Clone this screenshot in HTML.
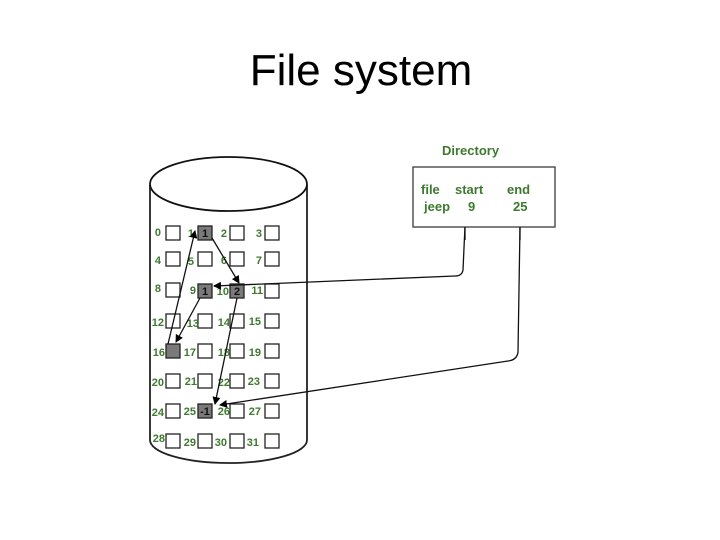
<!DOCTYPE html>
<html><head><meta charset="utf-8"><style>
html,body{margin:0;padding:0;background:#fff;}
svg{display:block;}
.l{font-family:"Liberation Sans",sans-serif;font-size:11px;font-weight:bold;fill:#3d7a2e;text-anchor:end;}
.d{font-family:"Liberation Sans",sans-serif;font-size:13px;font-weight:bold;fill:#3d7a2e;}
.g{font-family:"Liberation Sans",sans-serif;font-size:11px;font-weight:bold;fill:#111;text-anchor:middle;}
</style></head><body>
<svg width="720" height="540" viewBox="0 0 720 540" xmlns="http://www.w3.org/2000/svg">
<defs><marker id="a" markerWidth="8" markerHeight="8" refX="7" refY="4" orient="auto" markerUnits="userSpaceOnUse"><path d="M0,0 L8,4 L0,8 z" fill="#000"/></marker></defs>
<text x="361" y="85" font-family="Liberation Sans, sans-serif" font-size="44" text-anchor="middle" fill="#000">File system</text>
<!-- cylinder -->
<path d="M150,185 L150,440 A78.5 23 0 0 0 307 440 L307,185" fill="none" stroke="#222" stroke-width="1.8"/>
<ellipse cx="228.5" cy="184" rx="78.5" ry="27" fill="none" stroke="#111" stroke-width="1.8"/>
<!-- boxes -->
<g fill="#fff" stroke="#222" stroke-width="1.3">
<rect x="166" y="226" width="14" height="14"/><rect x="230" y="226" width="14" height="14"/><rect x="265" y="226" width="14" height="14"/>
<rect x="166" y="252" width="14" height="14"/><rect x="198" y="252" width="14" height="14"/><rect x="230" y="252" width="14" height="14"/><rect x="265" y="252" width="14" height="14"/>
<rect x="166" y="283" width="14" height="14"/><rect x="265" y="284" width="14" height="14"/>
<rect x="166" y="314" width="14" height="14"/><rect x="198" y="314" width="14" height="14"/><rect x="230" y="314" width="14" height="14"/><rect x="265" y="314" width="14" height="14"/>
<rect x="198" y="344" width="14" height="14"/><rect x="230" y="344" width="14" height="14"/><rect x="265" y="344" width="14" height="14"/>
<rect x="166" y="374" width="14" height="14"/><rect x="198" y="374" width="14" height="14"/><rect x="230" y="374" width="14" height="14"/><rect x="265" y="374" width="14" height="14"/>
<rect x="166" y="404" width="14" height="14"/><rect x="230" y="404" width="14" height="14"/><rect x="265" y="404" width="14" height="14"/>
<rect x="166" y="434" width="14" height="14"/><rect x="198" y="434" width="14" height="14"/><rect x="230" y="434" width="14" height="14"/><rect x="265" y="434" width="14" height="14"/>
</g>
<g fill="#7a7a7a" stroke="#222" stroke-width="1.3">
<rect x="198" y="226" width="14" height="14"/><rect x="198" y="284" width="14" height="14"/><rect x="230" y="284" width="14" height="14"/>
<rect x="166" y="344" width="14" height="14"/><rect x="198" y="404" width="14" height="14"/>
</g>
<text class="g" x="205" y="237">1</text><text class="g" x="205" y="295">1</text><text class="g" x="237" y="295">2</text><text class="g" x="205" y="415">-1</text>
<!-- labels -->
<g class="l">
<text x="161" y="236">0</text><text x="194" y="237">1</text><text x="227" y="237">2</text><text x="262" y="237">3</text>
<text x="161" y="264">4</text><text x="194" y="265">5</text><text x="227" y="264">6</text><text x="262" y="264">7</text>
<text x="161" y="292">8</text><text x="196" y="294">9</text><text x="229" y="295">10</text><text x="263" y="294">11</text>
<text x="164" y="326">12</text><text x="199" y="327">13</text><text x="230" y="326">14</text><text x="261" y="325">15</text>
<text x="165" y="356">16</text><text x="196" y="356">17</text><text x="230" y="356">18</text><text x="261" y="356">19</text>
<text x="164" y="386">20</text><text x="197" y="385">21</text><text x="230" y="386">22</text><text x="260" y="385">23</text>
<text x="164" y="416">24</text><text x="196" y="415">25</text><text x="230" y="415">26</text><text x="261" y="415">27</text>
<text x="165" y="442">28</text><text x="196" y="446">29</text><text x="227" y="446">30</text><text x="259" y="446">31</text>
</g>
<!-- internal arrows -->
<g stroke="#111" stroke-width="1.3" fill="none" marker-end="url(#a)">
<line x1="212" y1="238" x2="239" y2="283"/>
<line x1="237" y1="298" x2="215" y2="404"/>
<line x1="200" y1="298" x2="176" y2="342"/>
<line x1="168" y1="344" x2="195" y2="231"/>
<path d="M465,226 L463,270 Q462,276 455,276 L214,286"/>
<path d="M520,226 L518,352 Q517,360 508,361 L220,405"/>
</g>
<!-- directory -->
<text class="d" x="442" y="155">Directory</text>
<rect x="413" y="167" width="142" height="60" fill="#fff" stroke="#555" stroke-width="1.5"/>
<line x1="465" y1="227" x2="465" y2="240" stroke="#111" stroke-width="1.3"/>
<line x1="520" y1="227" x2="520" y2="240" stroke="#111" stroke-width="1.3"/>
<text class="d" x="421" y="194">file</text><text class="d" x="455" y="194">start</text><text class="d" x="507" y="194">end</text>
<text class="d" x="424" y="211">jeep</text><text class="d" x="468" y="211">9</text><text class="d" x="513" y="211">25</text>
</svg>
</body></html>
